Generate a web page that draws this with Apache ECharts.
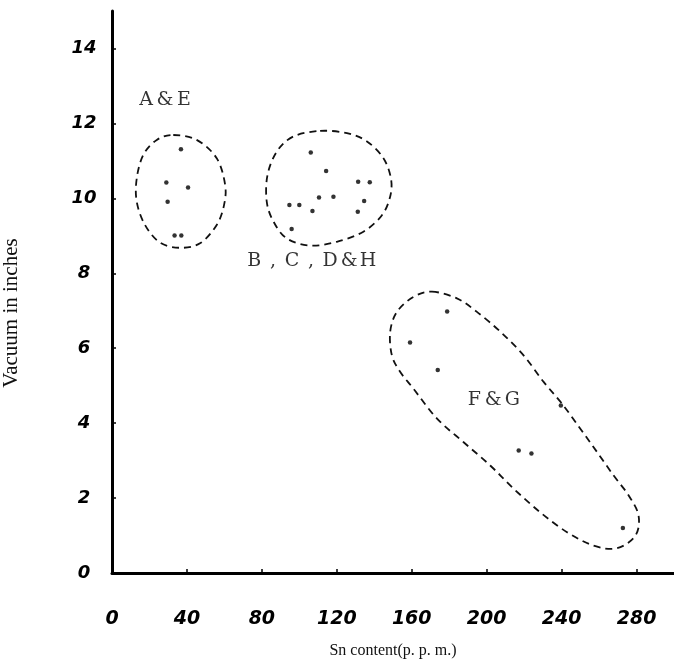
<!DOCTYPE html>
<html>
<head>
<meta charset="utf-8">
<script src="https://cdn.jsdelivr.net/npm/echarts@6/dist/echarts.min.js"></script>
<style>html,body{margin:0;padding:0;background:#fff;}#c{width:674px;height:665px;}</style>
</head>
<body>
<div id="c"></div>
<script>
// Axis ticks
var xTicks = [0, 40, 80, 120, 160, 200, 240, 280];
var yTicks = [0, 2, 4, 6, 8, 10, 12, 14];

// Data points [Sn content ppm, vacuum inches]
var groupAE = [[36.8,11.31],[29.0,10.42],[40.6,10.29],[29.7,9.91],[33.4,9.01],[37.0,9.01]];
var groupBCDH = [[106.1,11.22],[114.3,10.73],[131.4,10.44],[137.6,10.43],[110.5,10.02],[118.2,10.04],
                 [94.7,9.82],[100.0,9.82],[107.0,9.66],[134.6,9.93],[131.2,9.64],[95.9,9.18]];
var groupFG = [[178.9,6.98],[159.1,6.15],[173.9,5.42],[239.6,4.47],[217.1,3.27],[223.9,3.19],[272.7,1.20]];

// Dashed group outlines (data units)
var outlineAE = [[32.7,11.69],[45.2,11.56],[55.9,11.07],[60.4,10.36],[59.8,9.82],[55.9,9.29],[47.0,8.80],
  [36.3,8.68],[25.6,8.82],[17.6,9.29],[13.2,9.91],[13.2,10.53],[16.7,11.16],[23.9,11.56]];
var outlineBCDH = [[111.1,11.80],[125.4,11.74],[136.1,11.52],[144.9,11.07],[148.9,10.53],[148.5,10.05],
  [144.1,9.55],[134.2,9.11],[120.0,8.84],[105.8,8.74],[93.3,8.93],[86.2,9.38],[82.6,9.91],[83.0,10.62],
  [88.0,11.25],[96.8,11.65]];
var outlineFG = [[170.8,7.51],[184.1,7.33],[194.8,6.97],[207.3,6.44],[219.7,5.81],[230.4,5.10],[240.2,4.52],
  [250.0,3.85],[258.9,3.23],[267.8,2.60],[275.8,2.07],[281.1,1.53],[279.4,1.00],[269.6,0.66],[257.1,0.73],
  [242.9,1.09],[228.6,1.62],[214.4,2.25],[201.9,2.87],[187.7,3.49],[173.5,4.12],[160.9,4.92],[153.8,5.37],
  [149.4,5.81],[148.5,6.44],[152.1,6.97],[160.9,7.37]];

// Group labels
var groupNames = ['A&E', 'B,C,D&H', 'F&G'];
var groupLabelPos = [[28.3,12.62],[106.3,8.33],[203.5,4.62]];

var outlines = [outlineAE, outlineBCDH, outlineFG];

function spaced(s){
  return s.split('').map(function(ch){ return '{c|' + ch + '}'; }).join('');
}
// closed Catmull-Rom spline through pixel points -> SVG path
function closedSpline(p){
  var n = p.length, d = 'M' + p[0][0] + ',' + p[0][1];
  for (var i = 0; i < n; i++) {
    var p0 = p[(i - 1 + n) % n], p1 = p[i], p2 = p[(i + 1) % n], p3 = p[(i + 2) % n];
    var c1x = p1[0] + (p2[0] - p0[0]) / 6, c1y = p1[1] + (p2[1] - p0[1]) / 6;
    var c2x = p2[0] - (p3[0] - p1[0]) / 6, c2y = p2[1] - (p3[1] - p1[1]) / 6;
    d += 'C' + c1x + ',' + c1y + ',' + c2x + ',' + c2y + ',' + p2[0] + ',' + p2[1];
  }
  return d + 'Z';
}

var chart = echarts.init(document.getElementById('c'), null, {renderer:'canvas'});
var outlineSeries = {type:'custom', silent:true, z:2,
  data:outlines.map(function(o, i){ return [o[0][0], o[0][1], i]; }),
  renderItem:function(params, api){
    var o = outlines[api.value(2)];
    var pts = o.map(function(q){ return api.coord(q); });
    return {type:'path', shape:{pathData:closedSpline(pts)},
      style:{fill:null, stroke:'#111', lineWidth:1.8, lineDash:[7,5]}};
  }};
var dots = {type:'scatter', symbolSize:4.5, itemStyle:{color:'#000'},
  data:[].concat(groupAE, groupBCDH, groupFG), z:3};
var labels = {type:'scatter', symbolSize:0, silent:true, z:4,
  data:groupLabelPos.map(function(p,i){ return {value:p, name:groupNames[i]}; }),
  label:{show:true, position:'inside', color:'#000',
    formatter:function(p){ return spaced(p.name); },
    rich:{c:{width:19, align:'center', fontFamily:'DejaVu Serif', fontSize:19, color:'#000'}}}};

chart.setOption({
  animation:false,
  backgroundColor:'#fff',
  grid:{left:112, right:0, top:11, bottom:92, containLabel:false, outerBoundsMode:'none'},
  xAxis:{type:'value', min:0, max:300, interval:40,
    name:'Sn content(p. p. m.)', nameLocation:'middle', nameGap:70,
    nameTextStyle:{fontFamily:'Liberation Serif', fontSize:16, color:'#111'},
    axisLine:{show:true, lineStyle:{color:'#000', width:3}},
    axisTick:{show:true, inside:true, length:4, lineStyle:{color:'#000', width:1.5}},
    splitLine:{show:false},
    axisLabel:{margin:37, showMaxLabel:false, fontFamily:'DejaVu Sans', fontStyle:'italic', fontWeight:'bold',
      fontSize:19, color:'#000',
      formatter:function(v){ return xTicks.indexOf(v) >= 0 ? String(v) : ''; }}},
  yAxis:{type:'value', min:0, max:15, interval:2,
    name:'Vacuum in inches', nameLocation:'middle', nameGap:90, nameRotate:90,
    nameTextStyle:{fontFamily:'Liberation Serif', fontSize:21, color:'#111', padding:[0,42,0,0]},
    axisLine:{show:true, lineStyle:{color:'#000', width:3}},
    axisTick:{show:true, inside:true, length:4, lineStyle:{color:'#000', width:1.5}},
    splitLine:{show:false},
    axisLabel:{margin:28, align:'center', showMaxLabel:false, fontFamily:'DejaVu Sans', fontStyle:'italic', fontWeight:'bold',
      fontSize:18, color:'#000',
      formatter:function(v){ return yTicks.indexOf(v) >= 0 ? String(v) : ''; }}},
  series:[outlineSeries, dots, labels]
});
</script>
</body>
</html>
